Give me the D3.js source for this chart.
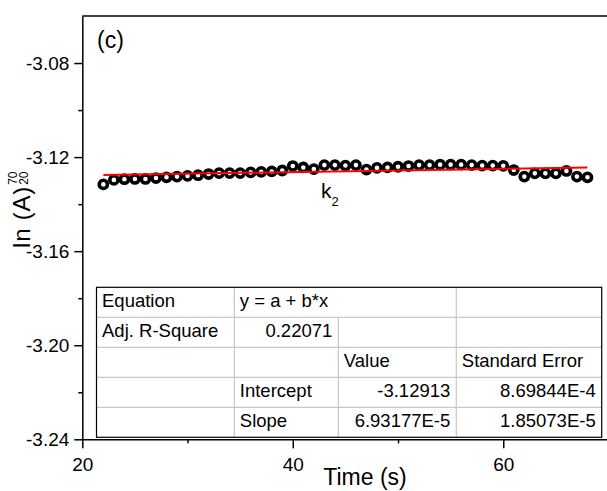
<!DOCTYPE html>
<html>
<head>
<meta charset="utf-8">
<script src="https://cdn.jsdelivr.net/npm/d3@7"></script>
<style>
  html, body { margin: 0; padding: 0; background: #fff; }
  svg { display: block; font-family: "Liberation Sans", Arial, sans-serif; }
</style>
</head>
<body>
<svg id="chart" width="607" height="491"></svg>
<script>
// ---- data ----
const timeS = [22,23,24,25,26,27,28,29,30,31,32,33,34,35,36,37,38,39,40,41,42,43,44,45,
               46,47,48,49,50,51,52,53,54,55,56,57,58,59,60,61,62,63,64,65,66,67,68];
const lnA = [-3.1316,-3.1297,-3.1294,-3.1293,-3.1293,-3.1289,-3.1286,-3.1283,-3.1280,-3.1277,
             -3.1272,-3.1268,-3.1268,-3.1268,-3.1265,-3.1263,-3.1261,-3.1257,-3.1238,-3.1244,
             -3.1251,-3.1234,-3.1234,-3.1236,-3.1234,-3.1253,-3.1246,-3.1244,-3.1241,-3.1238,
             -3.1234,-3.1234,-3.1232,-3.1232,-3.1232,-3.1234,-3.1236,-3.1236,-3.1237,-3.1255,
             -3.1283,-3.1269,-3.1269,-3.1269,-3.1259,-3.1283,-3.1286];
const fitIntercept = -3.12913;
const fitSlope = 6.93177e-5;
const fitRange = [22, 68];
const xTicks = [20, 40, 60];
const xMinorTicks = [30, 50];
const yTicks = [-3.24, -3.20, -3.16, -3.12, -3.08];
const yMinorTicks = [-3.22, -3.18, -3.14, -3.10];
const xDomain = [20, 70];
const yDomain = [-3.24, -3.06];
const tableCells = [
  ["Equation", "y = a + b*x", "", ""],
  ["Adj. R-Square", "0.22071", "", ""],
  ["", "", "Value", "Standard Error"],
  ["", "Intercept", "-3.12913", "8.69844E-4"],
  ["", "Slope", "6.93177E-5", "1.85073E-5"]
];

// ---- layout ----
const svg = d3.select("#chart");
const L = 82.3, R = 608.5, T = 16, B = 439.3;
const x = d3.scaleLinear().domain(xDomain).range([L, R]);
const y = d3.scaleLinear().domain(yDomain).range([B, T]);
const font = "'Liberation Sans', Arial, sans-serif";

// top frame line
svg.append("line").attr("x1", L).attr("x2", R).attr("y1", T).attr("y2", T)
  .attr("stroke", "#000").attr("stroke-width", 1.5);

// data circles
svg.append("g").selectAll("circle").data(timeS).join("circle")
  .attr("cx", d => x(d)).attr("cy", (d, i) => y(lnA[i])).attr("r", 4.1)
  .attr("fill", "none").attr("stroke", "#000").attr("stroke-width", 3.6);

// fit line
svg.append("line")
  .attr("x1", x(fitRange[0])).attr("y1", y(fitIntercept + fitSlope * fitRange[0]))
  .attr("x2", x(fitRange[1])).attr("y2", y(fitIntercept + fitSlope * fitRange[1]))
  .attr("stroke", "#ff0000").attr("stroke-width", 2);

// k2 label
const k = svg.append("text").attr("x", 321).attr("y", 198)
  .attr("font-size", 21).attr("font-family", font).text("k");
k.append("tspan").attr("font-size", 13).attr("dy", 8).text("2");

// (c)
svg.append("text").attr("x", 97).attr("y", 48).attr("font-size", 23)
  .attr("font-family", font).text("(c)");

// fit table
const colX = [96.5, 234.3, 338.3, 456.3, 601.7];
const rowY = [287.3, 317.3, 347.3, 377.3, 407.3, 437.3];
const tg = svg.append("g");
tg.append("rect").attr("x", colX[0]).attr("y", rowY[0])
  .attr("width", colX[4] - colX[0]).attr("height", rowY[5] - rowY[0]).attr("fill", "#fff");
for (let r = 1; r < 5; r++) {
  tg.append("line").attr("x1", colX[0]).attr("x2", colX[4]).attr("y1", rowY[r]).attr("y2", rowY[r])
    .attr("stroke", "#c8c8c8").attr("stroke-width", 1.2);
}
tg.append("line").attr("x1", colX[1]).attr("x2", colX[1]).attr("y1", rowY[0]).attr("y2", rowY[5])
  .attr("stroke", "#c8c8c8").attr("stroke-width", 1.2);
tg.append("line").attr("x1", colX[2]).attr("x2", colX[2]).attr("y1", rowY[1]).attr("y2", rowY[5])
  .attr("stroke", "#c8c8c8").attr("stroke-width", 1.2);
tg.append("line").attr("x1", colX[3]).attr("x2", colX[3]).attr("y1", rowY[0]).attr("y2", rowY[5])
  .attr("stroke", "#c8c8c8").attr("stroke-width", 1.2);
tg.append("rect").attr("x", colX[0]).attr("y", rowY[0])
  .attr("width", colX[4] - colX[0]).attr("height", rowY[5] - rowY[0])
  .attr("fill", "none").attr("stroke", "#000").attr("stroke-width", 1.2);
const isNum = s => /^-?[0-9]/.test(s);
tableCells.forEach((row, r) => {
  row.forEach((txt, c) => {
    if (!txt) return;
    const num = isNum(txt);
    tg.append("text")
      .attr("x", num ? colX[c + 1] - 6 : colX[c] + 5.5)
      .attr("y", rowY[r] + 20)
      .attr("text-anchor", num ? "end" : "start")
      .attr("font-size", 18.5).attr("font-family", font).attr("fill", "#000")
      .text(txt);
  });
});

// axes
const fmtY = d => d.toFixed(2);
const xAxis = svg.append("g").attr("transform", `translate(0,${B})`)
  .call(d3.axisBottom(x).tickValues(xTicks).tickSize(9).tickSizeOuter(0).tickFormat(d3.format("d")));
svg.append("g").attr("transform", `translate(0,${B})`)
  .call(d3.axisBottom(x).tickValues(xMinorTicks).tickSize(4).tickFormat(""))
  .call(g => g.select(".domain").remove());
const yAxis = svg.append("g").attr("transform", `translate(${L},0)`)
  .call(d3.axisLeft(y).tickValues(yTicks).tickSize(8).tickSizeOuter(0).tickFormat(fmtY));
svg.append("g").attr("transform", `translate(${L},0)`)
  .call(d3.axisLeft(y).tickValues(yMinorTicks).tickSize(4).tickFormat(""))
  .call(g => g.select(".domain").remove());

svg.selectAll(".domain, .tick line").attr("stroke", "#000").attr("stroke-width", 1.5);
xAxis.selectAll(".tick text").attr("font-size", 19).attr("font-family", font)
  .attr("fill", "#000").attr("dy", "1.05em");
yAxis.selectAll(".tick text").attr("font-size", 19).attr("font-family", font)
  .attr("fill", "#000").attr("x", -13).attr("dy", "0.35em");

// x title
svg.append("text").attr("x", 365).attr("y", 485).attr("text-anchor", "middle")
  .attr("font-size", 23).attr("font-family", font).text("Time (s)");

// y title: ln (A) with sub 20 and sup 70
const yt = svg.append("g").attr("transform", "translate(30,248) rotate(-90)");
const main = yt.append("text").attr("x", 0).attr("y", 0).attr("font-size", 24)
  .attr("letter-spacing", 0.8).attr("font-family", font).text("ln (A)");
const len = main.node().getComputedTextLength();
yt.append("text").attr("x", len + 1).attr("y", -13).attr("font-size", 12)
  .attr("font-family", font).text("70");
yt.append("text").attr("x", len + 1).attr("y", -2).attr("font-size", 12)
  .attr("font-family", font).text("20");
</script>
</body>
</html>
